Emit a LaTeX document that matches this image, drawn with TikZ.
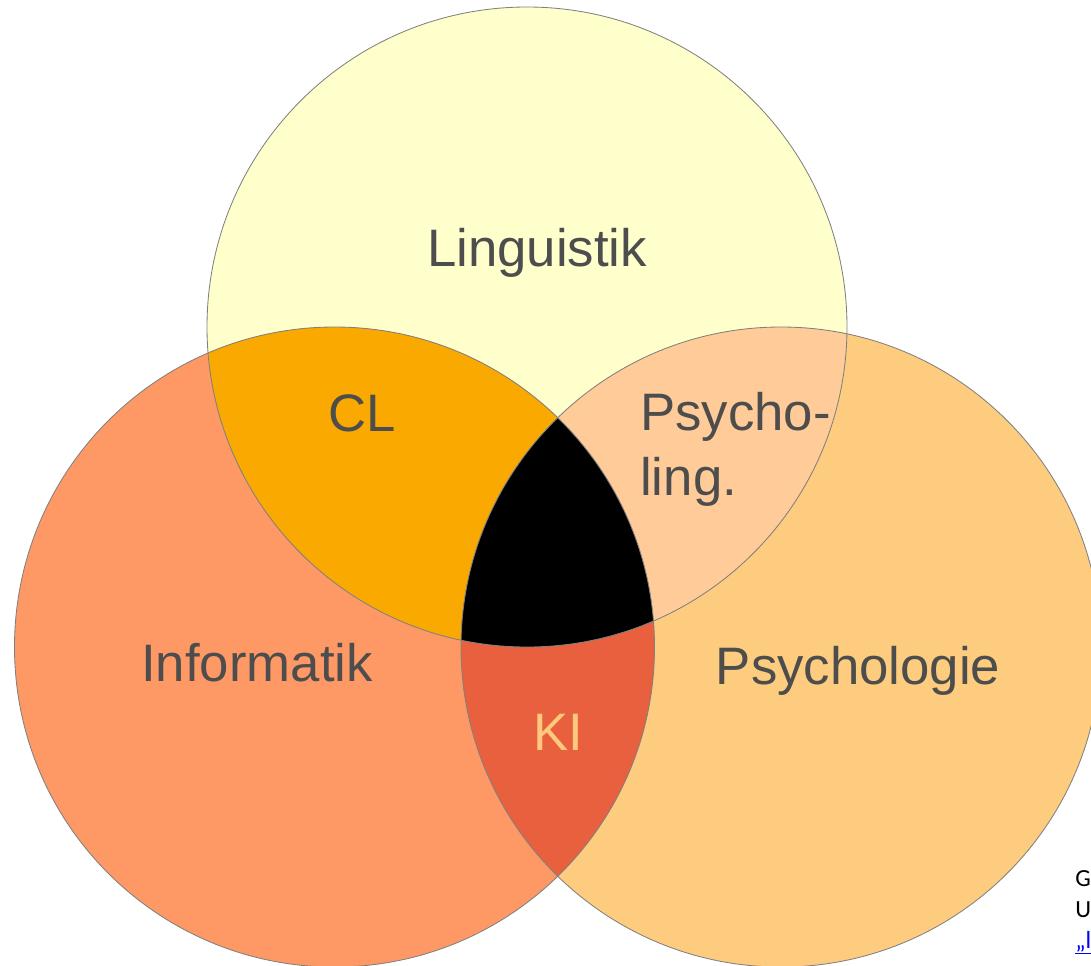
\documentclass[tikz,border=0pt]{standalone}
\usepackage{fontspec}
\usepackage{xcolor}
\newfontfamily\labelfont{Liberation Sans}
\newfontfamily\notefont{Carlito}
\usetikzlibrary{positioning}
\definecolor{lingfill}{HTML}{FFFFCC}
\definecolor{infofill}{HTML}{FE9966}
\definecolor{psyfill}{HTML}{FECC7E}
\definecolor{clfill}{HTML}{F9A900}
\definecolor{plfill}{HTML}{FECB99}
\definecolor{kifill}{HTML}{E9603F}
\definecolor{labelgray}{HTML}{4D4D4D}
\definecolor{kitext}{HTML}{FCC97E}
\definecolor{rimgray}{HTML}{808080}
\definecolor{linkblue}{HTML}{0000FF}

\begin{document}
\begin{tikzpicture}[x=0.025cm, y=-0.025cm,
  area/.style={font=\labelfont\fontsize{37.5}{46}\selectfont, text=labelgray,
               inner sep=0pt, anchor=base},
  rim/.style={draw=rimgray, line width=0.6pt},
  note/.style={font=\notefont\fontsize{17.5}{22}\selectfont, inner sep=0pt,
               anchor=base west},
]
\useasboundingbox (0,0) rectangle (1091,966);
\clip (0,0) rectangle (1091,966);

% Circle centres
\coordinate (ling) at (527,327);
\coordinate (info) at (334.5,647);
\coordinate (psy) at (781,647);

% Single fields
\fill[lingfill] (ling) circle[radius=320];
\fill[infofill] (info) circle[radius=320];
\fill[psyfill] (psy) circle[radius=320];

% Informatik and Psychologie
\begin{scope}
  \clip (info) circle[radius=320];
  \fill[kifill] (psy) circle[radius=320];
\end{scope}

% Overlaps with Linguistik
\begin{scope}
  \clip (ling) circle[radius=320];
  \fill[clfill] (info) circle[radius=320];
  \fill[plfill] (psy) circle[radius=320];
  \clip (info) circle[radius=320];
  \fill[black] (psy) circle[radius=320];
\end{scope}

\foreach \set in {ling,info,psy}
  \draw[rim] (\set) circle[radius=320];

% Labels
\node[area] (linglabel) at (537,266) {Linguistik};
\node[area] (cllabel) at (362,431) {CL};
\node[area, align=left, anchor=base west] (pllabel) at (640,495) {Psycho-\\ling.};
\node[area] (infolabel) at (257,681) {Informatik};
\node[area] (psylabel) at (858,684) {Psychologie};
\node[area, text=kitext] (kilabel) at (558,750) {KI};

% Source note, cut off at the edge
\node[note] (noteg) at (1075,886) {G};
\node[note] (noteu) at (1075,917) {U};
\node[note, text=linkblue] (notelink) at (1075,948) {\underline{„l}};
\end{tikzpicture}
\end{document}
